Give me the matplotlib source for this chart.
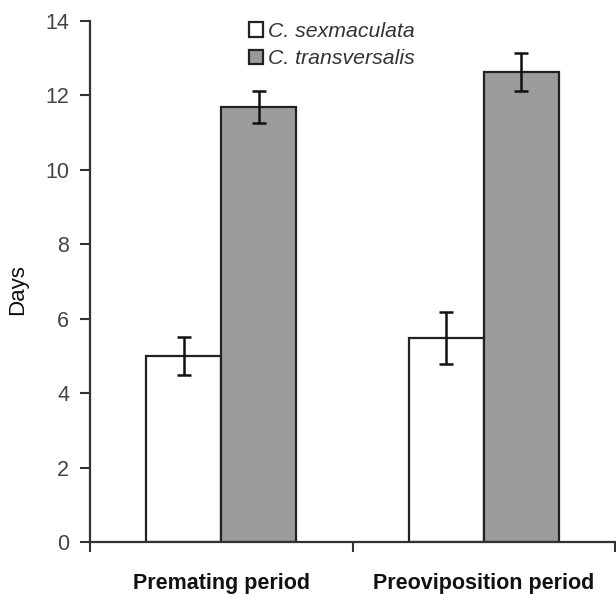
import numpy as np
import matplotlib
matplotlib.use('Agg')
import matplotlib.pyplot as plt

# data
periods = ['Premating period', 'Preoviposition period']
species = ['C. sexmaculata', 'C. transversalis']
sexmaculata = [5.0, 5.47]
sexmaculata_err = [0.5, 0.70]
transversalis = [11.69, 12.63]
transversalis_err = [0.43, 0.50]

plt.rcParams['font.family'] = ['Liberation Sans', 'DejaVu Sans']

fig = plt.figure(figsize=(6.16, 5.94), dpi=100)
ax = fig.add_axes([90/616, 52/594, 525/616, 521/594])

x = np.arange(len(periods)) + 0.5
w = 0.286
err_kw = dict(ecolor='#111111', elinewidth=1.8, capsize=5, capthick=1.8)
b1 = ax.bar(x - w/2, sexmaculata, w, yerr=sexmaculata_err, color='white',
            edgecolor='#222222', linewidth=1.6, error_kw=err_kw, label=species[0])
b2 = ax.bar(x + w/2, transversalis, w, yerr=transversalis_err, color='#9c9c9c',
            edgecolor='#222222', linewidth=1.6, error_kw=err_kw, label=species[1])

ax.set_xlim(0, 2)
ax.set_ylim(0, 14)
ax.set_yticks(np.arange(0, 15, 2))
ax.set_xticks([0, 1, 2])
ax.set_xticklabels([])
ax.set_xticks(x, minor=True)
ax.set_xticklabels(periods, minor=True, fontsize=15.5, fontweight='bold', color='#111111')
ax.tick_params(axis='x', which='minor', length=0, pad=22)
ax.tick_params(axis='x', which='major', length=7, width=1.5, color='#333333', direction='out')
ax.tick_params(axis='y', length=7, width=1.5, color='#333333', direction='out',
               labelsize=15.5, labelcolor='#444444', pad=8)

for s in ['top', 'right']:
    ax.spines[s].set_visible(False)
for s in ['left', 'bottom']:
    ax.spines[s].set_linewidth(1.6)
    ax.spines[s].set_color('#333333')

ax.set_ylabel('Days', fontsize=16, color='#111111')
ax.yaxis.set_label_coords(-0.118, 0.485)

leg = ax.legend(handles=[b1, b2], loc='upper left', bbox_to_anchor=(249/616, 1 - 22/594),
                bbox_transform=fig.transFigure, frameon=False, fontsize=15.3,
                handlelength=0.65, handleheight=0.65, handletextpad=0.25,
                labelspacing=0.38, borderpad=0, borderaxespad=0)
for t in leg.get_texts():
    t.set_fontstyle('italic')
    t.set_color('#333333')

fig.savefig('out.png', dpi=100)
